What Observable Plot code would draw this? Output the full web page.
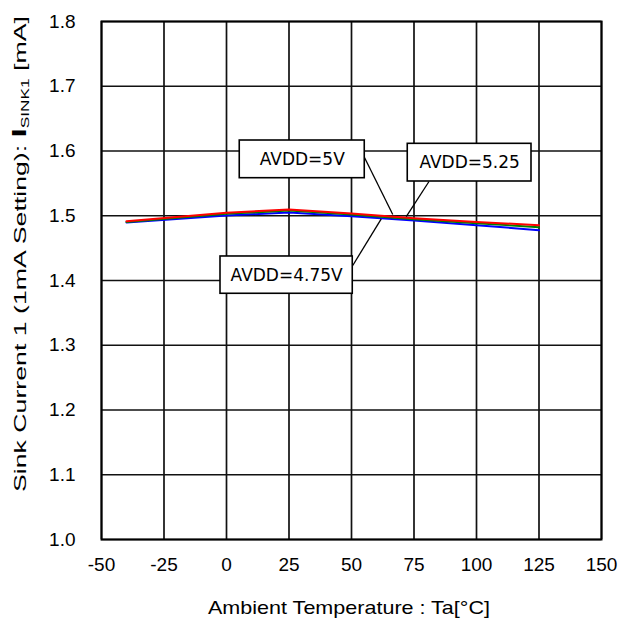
<!DOCTYPE html>
<html><head><meta charset="utf-8">
<script src="https://cdn.jsdelivr.net/npm/d3@7"></script>
<script src="https://cdn.jsdelivr.net/npm/@observablehq/plot@0.6"></script>
<style>body{margin:0;background:#fff}</style>
</head><body><div id="chart"></div>
<script>
const temps = [-40, 0, 25, 50, 75, 100, 125];
const avdd475 = [1.4896, 1.5005, 1.5050, 1.4993, 1.4925, 1.4855, 1.4777];
const avdd500 = [1.4905, 1.5030, 1.5080, 1.5020, 1.4945, 1.4885, 1.4823];
const avdd525 = [1.4916, 1.5045, 1.5097, 1.5035, 1.4960, 1.4905, 1.4854];
const seriesNames = ["AVDD=4.75V", "AVDD=5V", "AVDD=5.25"];
const seriesColors = ["#0000ff", "#008000", "#ff0000"];
const xTicks = [-50, -25, 0, 25, 50, 75, 100, 125, 150];
const yTicks = [1.0, 1.1, 1.2, 1.3, 1.4, 1.5, 1.6, 1.7, 1.8];
const labelText = ["AVDD=5V", "AVDD=5.25", "AVDD=4.75V"];
const labelBoxX1 = [5.3, 72.5, -2.4];
const labelBoxX2 = [55.3, 122, 50.5];
const labelBoxY1 = [1.558, 1.5529, 1.3795];
const labelBoxY2 = [1.6162, 1.6111, 1.4371];
const leaderX1 = [55.2, 81, 50.5];
const leaderY1 = [1.590, 1.5529, 1.4232];
const leaderX2 = [66.5, 71.9, 61.9];
const leaderY2 = [1.5019, 1.4988, 1.4953];

const allSeries = [avdd475, avdd500, avdd525];
const lineData = [];
allSeries.forEach((vals, s) => vals.forEach((v, i) => lineData.push({t: temps[i], v, s: seriesNames[s]})));
const labels = labelText.map((txt, i) => ({txt, x1: labelBoxX1[i], x2: labelBoxX2[i], y1: labelBoxY1[i], y2: labelBoxY2[i],
  lx1: leaderX1[i], ly1: leaderY1[i], lx2: leaderX2[i], ly2: leaderY2[i], cx: (labelBoxX1[i]+labelBoxX2[i])/2, cy: (labelBoxY1[i]+labelBoxY2[i])/2}));

const W = 623, H = 622, mL = 101, mR = 22, mT = 21, mB = 83;
const plot = Plot.plot({
  width: W, height: H, marginLeft: mL, marginRight: mR, marginTop: mT, marginBottom: mB,
  style: {fontFamily: "'Liberation Sans', Arial, sans-serif", fontSize: "19px", color: "#000", background: "#fff"},
  x: {domain: [-50, 150], label: null},
  y: {domain: [1.0, 1.8], label: null},
  color: {domain: seriesNames, range: seriesColors},
  marks: [
    Plot.gridX(xTicks, {stroke: "#111", strokeOpacity: 1, strokeWidth: 1.7}),
    Plot.gridY(yTicks, {stroke: "#111", strokeOpacity: 1, strokeWidth: 1.7}),
    Plot.axisX({ticks: xTicks, tickSize: 0, tickPadding: 18, tickFormat: d => String(d), fontSize: 19, label: null}),
    Plot.axisY({ticks: yTicks, tickSize: 0, tickPadding: 26, tickFormat: d3.format(".1f"), fontSize: 19, label: null}),
    Plot.line(lineData, {x: "t", y: "v", z: "s", stroke: "s", strokeWidth: 2}),
    Plot.link(labels, {x1: "lx1", y1: "ly1", x2: "lx2", y2: "ly2", stroke: "#000", strokeWidth: 1.3}),
    Plot.rect(labels, {x1: "x1", x2: "x2", y1: "y1", y2: "y2", fill: "#fff", stroke: "#000", strokeWidth: 1.6}),
    Plot.text(labels, {x: "cx", y: "cy", text: "txt", fontSize: 17, fontFamily: "'DejaVu Sans', sans-serif", fill: "#000"}),
    Plot.frame({stroke: "#000", strokeWidth: 2})
  ]
});
document.getElementById("chart").appendChild(plot);

const svg = d3.select(plot);
svg.append("text")
  .attr("x", 349).attr("y", 614)
  .attr("text-anchor", "middle").attr("font-size", 18.5).attr("fill", "#000")
  .attr("font-family", "'Liberation Sans', Arial, sans-serif")
  .attr("textLength", 282).attr("lengthAdjust", "spacingAndGlyphs")
  .text("Ambient Temperature : Ta[°C]");
const yt = svg.append("text")
  .attr("transform", `translate(26,${254}) rotate(-90)`)
  .attr("text-anchor", "middle").attr("font-size", 17).attr("fill", "#000")
  .attr("font-family", "'Liberation Sans', Arial, sans-serif")
  .attr("textLength", 476).attr("lengthAdjust", "spacingAndGlyphs");
yt.append("tspan").text("Sink Current 1 (1mA Setting): ");
yt.append("tspan").attr("font-size", 21).attr("font-weight", "bold").text("I");
yt.append("tspan").attr("font-size", 11).attr("dy", 3).text("SINK1");
yt.append("tspan").attr("dy", -3).text(" [mA]");
</script>
</body></html>
